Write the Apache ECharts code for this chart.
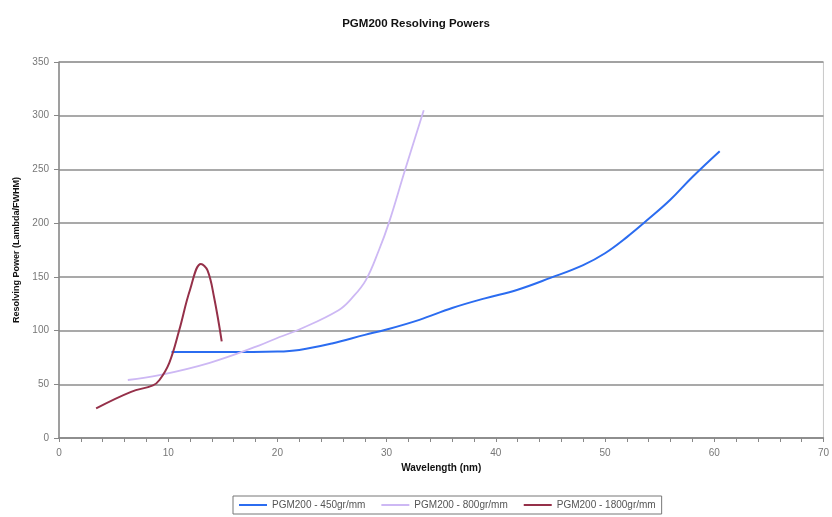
<!DOCTYPE html>
<html>
<head>
<meta charset="utf-8">
<script src="https://cdn.jsdelivr.net/npm/echarts@6/dist/echarts.min.js"></script>
<style>html,body{margin:0;padding:0;background:#fff;}#c{width:832px;height:517px;}</style>
</head>
<body>
<div id="c"></div>
<script>
const titleText = 'PGM200 Resolving Powers';
const xName = 'Wavelength (nm)';
const yName = 'Resolving Power (Lambda/FWHM)';
const seriesNames = ['PGM200 - 450gr/mm', 'PGM200 - 800gr/mm', 'PGM200 - 1800gr/mm'];
const seriesColors = ['#2b6cf0', '#cdb8f4', '#953049'];

const wl450 = [10.3, 15, 20, 22, 25, 28, 30, 33, 36, 39, 42, 45, 48, 50, 52, 54, 56, 58, 60.5];
const rp450 = [80, 80, 80.5, 82, 88, 96, 101, 110, 121, 130, 138, 149, 161, 172, 187, 204, 222, 243, 267];

const wl800 = [6.3, 9.2, 13.8, 18.3, 20.2, 22, 25.6, 26.8, 28.1, 29.3, 30.2, 31.7, 33.4];
const rp800 = [54, 58.5, 70, 86, 94, 101, 119, 130, 147, 175, 200, 250, 305];

const wl1800 = [3.4, 6.6, 8.6, 9.2, 10.1, 11.0, 12.0, 13.0, 13.6, 14.2, 14.9];
const rp1800 = [27.6, 43, 49, 54, 70, 100, 138, 162, 156, 131, 90];

const pairs = (xs, ys) => xs.map((x, i) => [x, ys[i]]);
const datasets = [pairs(wl450, rp450), pairs(wl800, rp800), pairs(wl1800, rp1800)];

const chart = echarts.init(document.getElementById('c'));
const font = 'Arial, "Liberation Sans", sans-serif';
chart.setOption({
  animation: false,
  backgroundColor: '#fff',
  title: {
    text: titleText, left: 'center', top: 13,
    textStyle: { fontFamily: font, fontSize: 11.5, fontWeight: 'bold', color: '#111' }
  },
  grid: { left: 59, right: 6, top: 62, bottom: 79, show: true, borderColor: '#c8c8c8', borderWidth: 1 },
  legend: {
    bottom: 3, left: 233, itemWidth: 28, itemHeight: 2, itemGap: 16,
    borderColor: '#777', borderWidth: 1, padding: [4, 6],
    icon: 'rect',
    textStyle: { fontFamily: font, fontSize: 10, color: '#555' },
    data: seriesNames
  },
  xAxis: {
    type: 'value', min: 0, max: 70, interval: 10,
    name: xName, nameLocation: 'middle', nameGap: 23,
    nameTextStyle: { fontFamily: font, fontSize: 10, fontWeight: 'bold', color: '#111' },
    axisLine: { show: true, lineStyle: { color: '#888', width: 1.5 } },
    axisTick: { show: true, length: 4, lineStyle: { color: '#888' } },
    minorTick: { show: true, splitNumber: 5, length: 4, lineStyle: { color: '#888' } },
    axisLabel: { fontFamily: font, fontSize: 10, color: '#777', margin: 10 },
    splitLine: { show: false }
  },
  yAxis: {
    type: 'value', min: 0, max: 350, interval: 50,
    name: yName, nameLocation: 'middle', nameGap: 38,
    nameTextStyle: { fontFamily: font, fontSize: 9, fontWeight: 'bold', color: '#111' },
    axisLine: { show: true, lineStyle: { color: '#888', width: 1.5 } },
    axisTick: { show: true, length: 5, lineStyle: { color: '#888' } },
    axisLabel: { fontFamily: font, fontSize: 10, color: '#777', margin: 10 },
    splitLine: { show: true, lineStyle: { color: '#8c8c8c', width: 1.5 } }
  },
  series: datasets.map((d, i) => ({
    name: seriesNames[i], type: 'line', data: d, smooth: 0.4,
    showSymbol: false, symbol: 'none',
    lineStyle: { color: seriesColors[i], width: i === 1 ? 1.8 : 2 },
    itemStyle: { color: seriesColors[i] }
  }))
});
</script>
</body>
</html>
